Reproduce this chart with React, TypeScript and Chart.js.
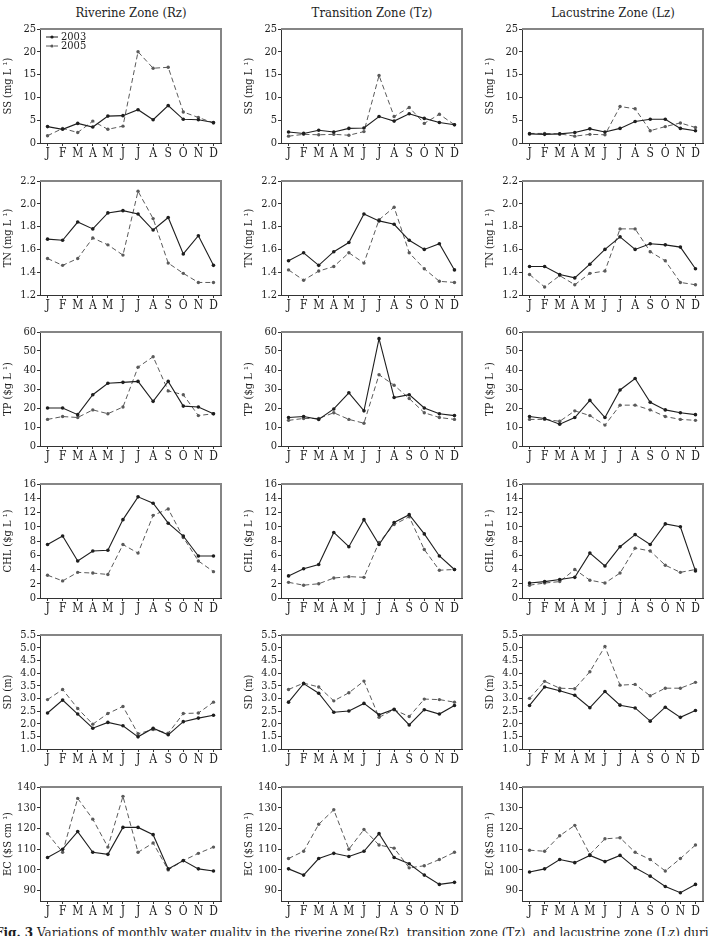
import React, { useEffect, useRef } from "react";
import { Chart, registerables } from "chart.js";

Chart.register(...registerables);

// ---- categories / labels ----
const months = ["J", "F", "M", "A", "M", "J", "J", "A", "S", "O", "N", "D"];
const zoneTitles = ["Riverine Zone (Rz)", "Transition Zone (Tz)", "Lacustrine Zone (Lz)"];
const years = ["2003", "2005"];

// ---- suspended solids, mg/L ----
const ssRz2003 = [3.6, 3.0, 4.3, 3.5, 5.9, 6.0, 7.3, 5.1, 8.2, 5.2, 5.1, 4.5];
const ssRz2005 = [1.6, 3.2, 2.3, 4.8, 3.0, 3.7, 20.0, 16.4, 16.6, 6.8, 5.6, 4.4];
const ssTz2003 = [2.4, 2.1, 2.8, 2.4, 3.2, 3.3, 5.8, 4.8, 6.4, 5.4, 4.5, 4.0];
const ssTz2005 = [1.5, 1.9, 1.8, 1.9, 1.7, 2.5, 14.8, 5.8, 7.8, 4.3, 6.3, 4.0];
const ssLz2003 = [2.0, 1.9, 2.0, 2.3, 3.1, 2.4, 3.2, 4.7, 5.2, 5.2, 3.2, 2.7];
const ssLz2005 = [2.1, 2.1, 2.0, 1.5, 1.9, 1.8, 8.0, 7.5, 2.7, 3.6, 4.4, 3.4];

// ---- total nitrogen, mg/L ----
const tnRz2003 = [1.69, 1.68, 1.84, 1.78, 1.92, 1.94, 1.91, 1.77, 1.88, 1.56, 1.72, 1.46];
const tnRz2005 = [1.52, 1.46, 1.52, 1.70, 1.64, 1.55, 2.11, 1.87, 1.48, 1.39, 1.31, 1.31];
const tnTz2003 = [1.50, 1.57, 1.46, 1.58, 1.66, 1.91, 1.85, 1.82, 1.68, 1.60, 1.65, 1.42];
const tnTz2005 = [1.42, 1.33, 1.41, 1.45, 1.57, 1.48, 1.86, 1.97, 1.57, 1.43, 1.32, 1.31];
const tnLz2003 = [1.45, 1.45, 1.38, 1.35, 1.47, 1.60, 1.71, 1.60, 1.65, 1.64, 1.62, 1.43];
const tnLz2005 = [1.38, 1.27, 1.37, 1.29, 1.39, 1.41, 1.78, 1.78, 1.58, 1.50, 1.31, 1.29];

// ---- total phosphorus ----
const tpRz2003 = [20, 20, 16.5, 27, 33, 33.5, 34, 23.5, 34, 21, 20.5, 17];
const tpRz2005 = [14, 15.5, 15, 19, 17, 20.5, 41.5, 47, 29, 27, 16, 17];
const tpTz2003 = [15, 15.5, 14, 19.5, 28, 18.5, 56.5, 25.5, 27, 20, 17, 16];
const tpTz2005 = [13.5, 14.5, 14.5, 17.5, 14, 12, 37.5, 32, 25, 17.5, 15, 14];
const tpLz2003 = [15.5, 14.5, 11.5, 15, 24, 15, 29.5, 35.5, 23, 19, 17.5, 16.5];
const tpLz2005 = [14, 14, 13, 18.5, 16, 11, 21.5, 21.5, 19, 15.5, 14, 13.5];

// ---- chlorophyll ----
const chlRz2003 = [7.5, 8.7, 5.2, 6.6, 6.7, 11.0, 14.2, 13.3, 10.5, 8.7, 5.9, 5.9];
const chlRz2005 = [3.2, 2.4, 3.6, 3.5, 3.3, 7.5, 6.3, 11.6, 12.5, 8.5, 5.2, 3.7];
const chlTz2003 = [3.1, 4.1, 4.7, 9.2, 7.2, 11.0, 7.5, 10.6, 11.7, 9.0, 5.9, 4.0];
const chlTz2005 = [2.2, 1.8, 2.0, 2.8, 3.0, 2.9, 7.8, 10.3, 11.4, 6.8, 3.9, 4.0];
const chlLz2003 = [2.1, 2.3, 2.6, 2.9, 6.3, 4.5, 7.2, 8.9, 7.5, 10.4, 10.0, 3.8];
const chlLz2005 = [1.8, 2.1, 2.3, 4.0, 2.5, 2.1, 3.5, 7.0, 6.6, 4.6, 3.6, 4.0];

// ---- Secchi depth, m ----
const sdRz2003 = [2.42, 2.93, 2.38, 1.82, 2.05, 1.92, 1.48, 1.82, 1.56, 2.08, 2.22, 2.33];
const sdRz2005 = [2.95, 3.35, 2.6, 1.98, 2.4, 2.68, 1.6, 1.77, 1.62, 2.4, 2.42, 2.85];
const sdTz2003 = [2.85, 3.58, 3.2, 2.45, 2.5, 2.8, 2.35, 2.57, 1.95, 2.55, 2.38, 2.72];
const sdTz2005 = [3.35, 3.6, 3.45, 2.9, 3.22, 3.68, 2.25, 2.55, 2.28, 2.97, 2.95, 2.85];
const sdLz2003 = [2.72, 3.45, 3.3, 3.12, 2.63, 3.27, 2.73, 2.62, 2.1, 2.65, 2.25, 2.52];
const sdLz2005 = [3.0, 3.67, 3.4, 3.38, 4.05, 5.05, 3.52, 3.55, 3.1, 3.4, 3.4, 3.63];

// ---- electrical conductivity ----
const ecRz2003 = [106, 110, 118.5, 108.5, 107.5, 120.5, 120.5, 117, 100.5, 104.5, 100.5, 99.5];
const ecRz2005 = [117.5, 108.5, 134.5, 124.5, 111, 135.5, 108.5, 113, 100, 104.5, 108, 111];
const ecTz2003 = [100.5, 97.5, 105.5, 108, 106.5, 109, 117.5, 106, 103, 97.5, 93, 94];
const ecTz2005 = [105.5, 109, 122, 129, 110, 119.5, 112, 110.5, 101, 102, 105, 108.5];
const ecLz2003 = [99, 100.5, 105, 103.5, 107, 104, 107, 101, 97, 92, 89, 93];
const ecLz2005 = [109.5, 109, 116.5, 121.5, 107.5, 115, 115.5, 108.5, 105, 99.5, 105.5, 112];

// ---- y-axis tick values ----
const ssTicks = [0, 5, 10, 15, 20, 25];
const tnTicks = [1.2, 1.4, 1.6, 1.8, 2.0, 2.2];
const tpTicks = [0, 10, 20, 30, 40, 50, 60];
const chlTicks = [0, 2, 4, 6, 8, 10, 12, 14, 16];
const sdTicks = [1.0, 1.5, 2.0, 2.5, 3.0, 3.5, 4.0, 4.5, 5.0, 5.5];
const ecTicks = [90, 100, 110, 120, 130, 140];

type RowDef = {
  title: string;
  min: number;
  max: number;
  ticks: number[];
  decimals: number;
  series: number[][][]; // [zone][year][month]
};

const rows: RowDef[] = [
  { title: "SS (mg L \u00b9)", min: 0, max: 25, ticks: ssTicks, decimals: 0,
    series: [[ssRz2003, ssRz2005], [ssTz2003, ssTz2005], [ssLz2003, ssLz2005]] },
  { title: "TN (mg L \u00b9)", min: 1.2, max: 2.2, ticks: tnTicks, decimals: 1,
    series: [[tnRz2003, tnRz2005], [tnTz2003, tnTz2005], [tnLz2003, tnLz2005]] },
  { title: "TP ($g L \u00b9)", min: 0, max: 60, ticks: tpTicks, decimals: 0,
    series: [[tpRz2003, tpRz2005], [tpTz2003, tpTz2005], [tpLz2003, tpLz2005]] },
  { title: "CHL ($g L \u00b9)", min: 0, max: 16, ticks: chlTicks, decimals: 0,
    series: [[chlRz2003, chlRz2005], [chlTz2003, chlTz2005], [chlLz2003, chlLz2005]] },
  { title: "SD (m)", min: 1.0, max: 5.5, ticks: sdTicks, decimals: 1,
    series: [[sdRz2003, sdRz2005], [sdTz2003, sdTz2005], [sdLz2003, sdLz2005]] },
  { title: "EC ($S cm \u00b9)", min: 85, max: 140, ticks: ecTicks, decimals: 0,
    series: [[ecRz2003, ecRz2005], [ecTz2003, ecTz2005], [ecLz2003, ecLz2005]] },
];

const FONT = "'DejaVu Serif Condensed', 'DejaVu Serif', serif";
const INK = "#1e1e1e";
const INK2 = "#5a5a5a";

// panel geometry
const Y_AXIS_W = 40;
const PAD_TOP = 9;
const PLOT_W = 182;
const PLOT_H = 114;
const X_AXIS_H = 20;
const PAD_RIGHT = 3;
const colLeft = [0, 241, 482];
const rowTop = [20, 172, 323, 475, 626, 778];

// gray top/right border of each plot box
const framePlugin = {
  id: "boxFrame",
  afterDatasetsDraw(chart: any) {
    const { ctx, chartArea } = chart;
    const { left, top, right, bottom } = chartArea;
    ctx.save();
    ctx.strokeStyle = "#858585";
    ctx.lineWidth = 2;
    ctx.beginPath();
    ctx.moveTo(left, top);
    ctx.lineTo(right, top);
    ctx.lineTo(right, bottom);
    ctx.stroke();
    ctx.restore();
  },
};

// small in-plot legend (first panel only)
const legendPlugin = {
  id: "insetLegend",
  afterDraw(chart: any) {
    const { ctx, chartArea } = chart;
    ctx.save();
    chart.data.datasets.forEach((ds: any, i: number) => {
      const y = chartArea.top + 8 + i * 9;
      const x0 = chartArea.left + 6;
      const x1 = chartArea.left + 18;
      ctx.strokeStyle = ds.borderColor;
      ctx.lineWidth = 1;
      ctx.setLineDash(ds.borderDash || []);
      ctx.beginPath();
      ctx.moveTo(x0, y);
      ctx.lineTo(x1, y);
      ctx.stroke();
      ctx.setLineDash([]);
      ctx.fillStyle = ds.pointBackgroundColor;
      ctx.beginPath();
      ctx.arc((x0 + x1) / 2, y, 1.6, 0, Math.PI * 2);
      ctx.fill();
      ctx.fillStyle = INK;
      ctx.font = `11px ${FONT}`;
      ctx.textBaseline = "middle";
      ctx.textAlign = "left";
      ctx.fillText(ds.label, chartArea.left + 21, y);
    });
    ctx.restore();
  },
};

function Panel({ row, col }: { row: number; col: number }) {
  const ref = useRef<HTMLCanvasElement | null>(null);
  const def = rows[row];

  useEffect(() => {
    if (!ref.current) return;
    const [d2003, d2005] = def.series[col];
    const chart = new Chart(ref.current, {
      type: "line",
      data: {
        datasets: [
          {
            label: years[0],
            data: d2003.map((v, i) => ({ x: i, y: v })),
            borderColor: INK,
            borderWidth: 1.1,
            pointRadius: 1.8,
            pointBackgroundColor: INK,
            pointBorderWidth: 0,
            tension: 0,
          },
          {
            label: years[1],
            data: d2005.map((v, i) => ({ x: i, y: v })),
            borderColor: INK2,
            borderWidth: 1,
            borderDash: [5, 3],
            pointRadius: 1.7,
            pointBackgroundColor: INK2,
            pointBorderWidth: 0,
            tension: 0,
          },
        ],
      },
      options: {
        animation: false,
        responsive: false,
        maintainAspectRatio: false,
        layout: { padding: { top: PAD_TOP, right: PAD_RIGHT, left: 0, bottom: 0 } },
        plugins: { legend: { display: false }, tooltip: { enabled: false } },
        scales: {
          x: {
            type: "linear",
            min: -0.5,
            max: 11.5,
            afterBuildTicks: (s: any) => {
              s.ticks = months.map((_, i) => ({ value: i }));
            },
            afterFit: (s: any) => {
              s.height = X_AXIS_H;
            },
            ticks: {
              autoSkip: false,
              maxRotation: 0,
              padding: 1,
              color: INK,
              font: { family: FONT, size: 12 },
              callback: (v: any) => months[v as number] ?? "",
            },
            grid: { drawOnChartArea: false, drawTicks: true, tickLength: 3, color: "#333" },
            border: { display: true, color: "#333", width: 1 },
          },
          y: {
            type: "linear",
            min: def.min,
            max: def.max,
            afterBuildTicks: (s: any) => {
              s.ticks = def.ticks.map((v) => ({ value: v }));
            },
            afterFit: (s: any) => {
              s.width = Y_AXIS_W;
            },
            ticks: {
              autoSkip: false,
              padding: 1,
              color: INK,
              font: { family: FONT, size: 11 },
              callback: (v: any) => Number(v).toFixed(def.decimals),
            },
            title: {
              display: true,
              text: def.title,
              color: INK,
              font: { family: FONT, size: 11 },
              padding: { top: 2, bottom: 0 },
            },
            grid: { drawOnChartArea: false, drawTicks: true, tickLength: 3, color: "#333" },
            border: { display: true, color: "#333", width: 1 },
          },
        },
      },
      plugins: row === 0 && col === 0 ? [framePlugin, legendPlugin] : [framePlugin],
    } as any);
    return () => chart.destroy();
  }, [row, col]);

  const w = Y_AXIS_W + PLOT_W + PAD_RIGHT;
  const h = PAD_TOP + PLOT_H + X_AXIS_H;
  return (
    <canvas
      ref={ref}
      width={w}
      height={h}
      style={{ position: "absolute", left: colLeft[col], top: rowTop[row], width: w, height: h }}
    />
  );
}

export default function App() {
  return (
    <div
      style={{
        position: "absolute",
        left: 0,
        top: 0,
        width: 709,
        height: 936,
        overflow: "hidden",
        background: "#fff",
        fontFamily: FONT,
        color: INK,
      }}
    >
      {zoneTitles.map((t, c) => (
        <div
          key={t}
          style={{
            position: "absolute",
            left: colLeft[c] + Y_AXIS_W,
            top: 5,
            width: PLOT_W,
            textAlign: "center",
            fontSize: 13,
            lineHeight: "16px",
          }}
        >
          {t}
        </div>
      ))}
      {rows.map((_, r) =>
        [0, 1, 2].map((c) => <Panel key={`${r}-${c}`} row={r} col={c} />)
      )}
      <div
        style={{
          position: "absolute",
          left: -5,
          top: 925,
          whiteSpace: "nowrap",
          fontFamily: "'DejaVu Serif', serif",
          fontSize: 12,
          lineHeight: "16px",
        }}
      >
        <b>Fig. 3</b> Variations of monthly water quality in the riverine zone(Rz), transition zone (Tz), and lacustrine zone (Lz) during
      </div>
    </div>
  );
}
